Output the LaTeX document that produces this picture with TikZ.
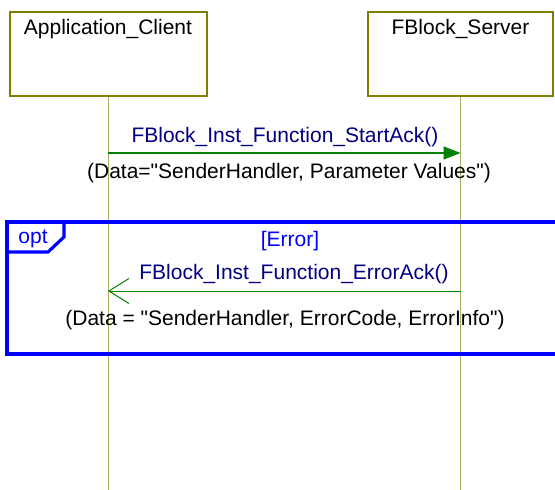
\documentclass[tikz,border=0pt]{standalone}
\usepackage{fontspec}
\setmainfont{Liberation Sans}
\usetikzlibrary{arrows.meta}
\definecolor{boxolive}{RGB}{128,128,0}
\definecolor{lifeolive}{RGB}{170,170,90}
\definecolor{msggreen}{RGB}{0,128,0}
\definecolor{msgnavy}{RGB}{0,0,128}
\definecolor{fragblue}{RGB}{0,0,255}
\newcommand{\dq}{\textquotedbl}
\tikzset{
  actor/.style={draw=boxolive, line width=2pt, fill=white, minimum height=84pt, inner sep=0pt},
  actorname/.style={anchor=north, inner sep=0pt, font=\fontsize{21}{25}\selectfont},
  lifeline/.style={draw=lifeolive, line width=1pt},
  msgtext/.style={text=msgnavy, font=\fontsize{21}{25}\selectfont, inner sep=0pt},
  datatext/.style={text=black, font=\fontsize{21}{25}\selectfont, inner sep=0pt},
  syncmsg/.style={draw=msggreen, line width=1.5pt, -{Triangle[length=17pt,width=13pt]}},
  replymsg/.style={draw=msggreen, line width=1pt, -{Straight Barb[length=20pt,width=25pt]}},
  frag/.style={draw=fragblue, line width=3.2pt},
  fragtext/.style={text=fragblue, font=\fontsize{21}{25}\selectfont, inner sep=0pt},
}
\begin{document}
\begin{tikzpicture}[x=1pt,y=-1pt]
\useasboundingbox[fill=white] (0,0) rectangle (555,490);

% participants
\node[actor, minimum width=197pt] (client) at (108,54) {};
\node[actorname] (clientname) at ([yshift=-8pt]client.north) {Application\_Client};
\node[actor, minimum width=185pt] (server) at (460.5,54) {};
\node[actorname] (servername) at ([yshift=-8pt]server.north) {FBlock\_Server};

% lifelines
\coordinate (clientend) at (client.south |- 0,495);
\coordinate (serverend) at (server.south |- 0,495);
\draw[lifeline] (client.south) -- (clientend);
\draw[lifeline] (server.south) -- (serverend);

% first message
\coordinate (c1) at (client.south |- 0,153);
\coordinate (s1) at (server.south |- 0,153);
\draw[syncmsg] (c1) -- (s1);
\node[msgtext] (m1) at (285,137) {FBlock\_Inst\_Function\_StartAck()};
\node[datatext] (d1) at (289,173) {(Data=\dq SenderHandler, Parameter Values\dq)};

% opt fragment
\coordinate (fragtl) at (7,222);
\coordinate (fragbl) at (7,354);
\coordinate (fragtr) at (565,222);
\coordinate (fragbr) at (565,354);
\draw[frag] (fragtr) -- (fragtl) -- (fragbl) -- (fragbr);
\draw[frag] (64,222) -- (64,237) -- (48,252) -- (7,252);
\node[fragtext] (optlabel) at (33,239) {opt};
\node[fragtext] (guard) at (290,241) {[Error]};

% error reply
\coordinate (s2) at (server.south |- 0,291);
\coordinate (c2) at (client.south |- 0,291);
\draw[replymsg] (s2) -- (c2);
\node[msgtext] (m2) at (294,274) {FBlock\_Inst\_Function\_ErrorAck()};
\node[datatext] (d2) at (285,320) {(Data = \dq SenderHandler, ErrorCode, ErrorInfo\dq)};
\end{tikzpicture}
\end{document}
